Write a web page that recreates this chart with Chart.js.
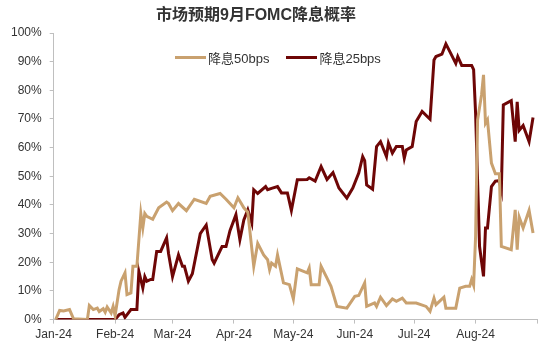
<!doctype html>
<html>
	<head>
		<meta charset="UTF-8" />
		<script src="https://cdn.jsdelivr.net/npm/chart.js"></script>
		<style type="text/css">
			body{margin: 0; background: #fff;}
			.chartBox{position: relative; width: 550px; height: 352px;}
			.chartTitle{position: absolute; left: 0; top: 1px; width: 512px; text-align: center;
				font: bold 16px "Liberation Sans", "Noto Sans CJK SC", sans-serif; color: #333;}
			.legend{position: absolute; left: 175px; top: 48px; display: flex; align-items: center;
				font: 13px "Liberation Sans", "Noto Sans CJK SC", sans-serif; color: #333;}
			.legend span.item{display: flex; align-items: center; margin-right: 17px;}
			.legend span.swatch{display: inline-block; width: 31px; height: 3px; margin-right: 2px;}
		</style>
	</head>
	<body>
		<div class="chartBox">
		<div class="chartTitle">市场预期9月FOMC降息概率</div>
		<canvas id="rateChart" width="550" height="352"></canvas>
		<div class="legend" id="legend"></div>
		</div>
		<script>
			// 降息50bps
			const dates50 = ['1/2','1/4','1/6','1/9','1/11','1/18','1/19','1/21','1/23','1/24','1/26','1/27','1/28','1/30','1/31',
				'2/1','2/3','2/4','2/6','2/7','2/9','2/10','2/12','2/14','2/15','2/16','2/17','2/20','2/23','2/27','2/28',
				'3/1','3/4','3/8','3/12','3/18','3/20','3/25','3/28',
				'4/1','4/3','4/6','4/8','4/11','4/13','4/16','4/18','4/19','4/20','4/22','4/23','4/26','4/29',
				'5/1','5/3','5/8','5/9','5/10','5/14','5/15','5/18','5/20','5/23','5/28',
				'6/1','6/3','6/6','6/7','6/11','6/12','6/14','6/17','6/20','6/22','6/25','6/27',
				'7/2','7/7','7/9','7/11','7/12','7/16','7/17','7/22','7/24','7/27','7/29','7/30','7/31',
				'8/1','8/2','8/4','8/5','8/6','8/7','8/9','8/11','8/13','8/14','8/19','8/21','8/22','8/23','8/25','8/28','8/30'];
			const rate50 = [0,3.2,3.0,3.5,0.3,0,4.9,3.5,4.0,2.8,3.8,2.6,4.4,2.3,4.6,
				1.4,10.4,13.4,16.3,8.7,9.3,18.6,18.6,37,32,37,36,35,39,41,40.5,
				38,40.5,38,42,40.5,43,44,42,
				39,42.5,39,37.5,18.6,26.6,22.6,20.9,17.4,19.7,18.6,22.6,12.8,12.2,
				7.2,17.7,16.3,18,12.2,12.2,18.6,14.5,11.6,4.6,4,
				8.1,8.4,12.8,4.6,5.8,4.6,7.8,4.9,7.2,6.4,7.5,5.8,
				5.8,4.6,2.9,7.5,5.2,7.8,4,4,11,11.6,11.6,14,12,
				29,69.7,78.4,85.4,68.5,69.7,54.6,50.9,50.9,25.5,24.4,38.3,24.4,35.8,32,38.1,30.2];

			// 降息25bps
			const dates25 = ['1/2','2/1','2/3','2/5','2/6','2/9','2/12','2/13','2/15','2/16','2/17','2/19','2/20','2/22','2/24','2/27','2/28',
				'3/1','3/4','3/6','3/7','3/9','3/11','3/15','3/18','3/21','3/22','3/26','3/28','3/30',
				'4/2','4/4','4/6','4/8','4/10','4/11','4/13','4/17','4/18','4/20','4/23','4/25','4/28','4/30',
				'5/3','5/8','5/9','5/12','5/15','5/18','5/21','5/24','5/28','5/31',
				'6/3','6/5','6/6','6/7','6/10','6/12','6/14','6/17','6/18','6/20','6/22','6/25','6/26','6/27','6/30',
				'7/2','7/5','7/9','7/11','7/12','7/15','7/17','7/19','7/22','7/23','7/25','7/30','7/31',
				'8/1','8/3','8/5','8/6','8/7','8/9','8/11','8/13','8/14','8/15','8/19','8/21','8/22','8/23','8/25','8/28','8/30'];
			const rate25 = [0,0,1.7,2.3,0.8,3.5,3.5,16.8,11,15,13.4,14,14,23.8,23.8,28.5,23,
				15,22.6,18.6,18.6,13.4,16,30,33,21,19.7,25.5,25.5,31,
				36.6,27.9,34.8,38.3,33.7,45.3,44,46.4,45.3,45.8,46.4,44.2,44.2,38.1,
				48.8,48.9,49.5,48.3,53.4,48.9,51.3,45.9,42.4,45.9,
				51.1,56.9,55.5,47,45.5,60.4,62.1,56.9,61.6,58.1,60.4,60.4,56.3,59.2,60.4,
				69.1,72.6,69.9,90.6,91.8,92.6,96.2,93.5,89.4,91.8,88.7,88.7,87.2,
				72,25.5,15.1,32,32,46.4,48.3,48.5,45.3,74.9,76.4,62.1,76,66,67.7,62.1,70.5];

			const monthStarts = ['1/1','2/1','3/1','4/1','5/1','6/1','7/1','8/1','9/1'];
			const monthLabels = ['Jan-24','Feb-24','Mar-24','Apr-24','May-24','Jun-24','Jul-24','Aug-24',''];

			function dayOf(s) {
				const [m, d] = s.split('/').map(Number);
				return (Date.UTC(2024, m - 1, d) - Date.UTC(2024, 0, 1)) / 864e5;
			}
			const toPoints = (dates, vals) => dates.map((d, i) => ({x: dayOf(d), y: vals[i]}));
			const tickDays = monthStarts.map(dayOf);

			const font = {family: '"Liberation Sans", "Noto Sans CJK SC", sans-serif', size: 12};
			const axisColor = '#bfbfbf';

			const data = {
				datasets: [{
					label: '降息50bps',
					data: toPoints(dates50, rate50),
					borderColor: '#c9a16f',
					borderWidth: 3
				}, {
					label: '降息25bps',
					data: toPoints(dates25, rate25),
					borderColor: '#6e0606',
					borderWidth: 3
				}]
			};

			const config = {
				type: 'line',
				data,
				options: {
					responsive: false,
					animation: false,
					layout: {padding: {left: 3, right: 13, top: 33, bottom: 6}},
					elements: {point: {radius: 0}, line: {tension: 0}},
					plugins: {
						title: {display: false},
						tooltip: {enabled: false},
						legend: {display: false}
					},
					scales: {
						x: {
							type: 'linear',
							min: 0,
							max: tickDays[tickDays.length - 1],
							afterBuildTicks: axis => { axis.ticks = tickDays.map(v => ({value: v})); },
							ticks: {
								autoSkip: false,
								maxRotation: 0,
								padding: 4,
								color: '#333',
								font,
								callback: v => monthLabels[tickDays.indexOf(v)]
							},
							grid: {drawOnChartArea: false, tickLength: 4, color: axisColor},
							border: {color: axisColor, width: 1}
						},
						y: {
							min: 0,
							max: 100,
							ticks: {stepSize: 10, padding: 8, color: '#333', font, callback: v => v + '%'},
							grid: {drawOnChartArea: false, tickLength: 4, color: axisColor},
							border: {color: axisColor, width: 1}
						}
					}
				}
			};

			const rateChart = new Chart(document.getElementById('rateChart'), config);

			// legend laid out in one row, as in the source
			const legendBox = document.getElementById('legend');
			rateChart.data.datasets.forEach(ds => {
				const item = document.createElement('span');
				item.className = 'item';
				item.innerHTML = '<span class="swatch" style="background:' + ds.borderColor + '"></span>' + ds.label;
				legendBox.appendChild(item);
			});
		</script>
	</body>
</html>
